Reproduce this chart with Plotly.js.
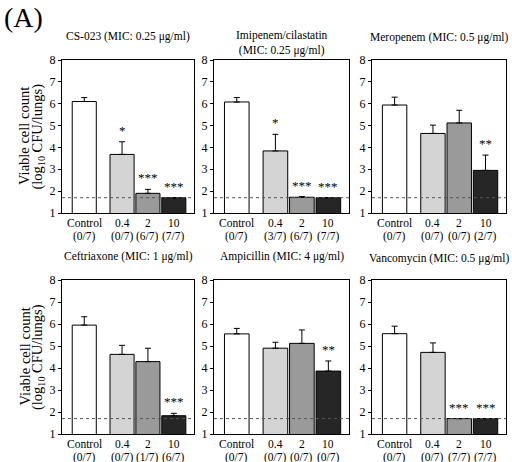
<!DOCTYPE html>
<html>
<head>
<meta charset="utf-8">
<script src="https://cdn.plot.ly/plotly-3.0.1.min.js"></script>
<style>html,body{margin:0;padding:0;background:#fff;}</style>
</head>
<body>
<div id="chart" style="width:512px;height:462px;"></div>
<script>
// ---- data ----
const doses = ['Control', '0.4', '2', '10'];
const panelTitles = [
  'CS-023 (MIC: 0.25 \u03bcg/ml)',
  'Imipenem/cilastatin<br>(MIC: 0.25 \u03bcg/ml)',
  'Meropenem (MIC: 0.5 \u03bcg/ml)',
  'Ceftriaxone (MIC: 1 \u03bcg/ml)',
  'Ampicillin (MIC: 4 \u03bcg/ml)',
  'Vancomycin (MIC: 0.5 \u03bcg/ml)'
];
const cs023Mean = [6.10, 3.68, 1.90, 1.70];
const cs023Err  = [0.18, 0.58, 0.18, 0];
const cs023Stars = ['', '*', '***', '***'];
const cs023Cleared = ['0/7', '0/7', '6/7', '7/7'];

const imipenemMean = [6.08, 3.84, 1.72, 1.70];
const imipenemErr  = [0.20, 0.76, 0.03, 0];
const imipenemStars = ['', '*', '***', '***'];
const imipenemCleared = ['0/7', '3/7', '6/7', '7/7'];

const meropenemMean = [5.94, 4.64, 5.12, 2.95];
const meropenemErr  = [0.36, 0.38, 0.58, 0.70];
const meropenemStars = ['', '', '', '**'];
const meropenemCleared = ['0/7', '0/7', '0/7', '2/7'];

const ceftriaxoneMean = [5.95, 4.62, 4.29, 1.83];
const ceftriaxoneErr  = [0.38, 0.41, 0.61, 0.11];
const ceftriaxoneStars = ['', '', '', '***'];
const ceftriaxoneCleared = ['0/7', '0/7', '1/7', '6/7'];

const ampicillinMean = [5.55, 4.90, 5.12, 3.86];
const ampicillinErr  = [0.25, 0.27, 0.61, 0.46];
const ampicillinStars = ['', '', '', '**'];
const ampicillinCleared = ['0/7', '0/7', '0/7', '0/7'];

const vancomycinMean = [5.56, 4.71, 1.70, 1.70];
const vancomycinErr  = [0.34, 0.43, 0, 0];
const vancomycinStars = ['', '', '***', '***'];
const vancomycinCleared = ['0/7', '0/7', '7/7', '7/7'];

const detectionLimit = 1.7;

const panels = [
  {mean: cs023Mean, err: cs023Err, stars: cs023Stars, cleared: cs023Cleared},
  {mean: imipenemMean, err: imipenemErr, stars: imipenemStars, cleared: imipenemCleared},
  {mean: meropenemMean, err: meropenemErr, stars: meropenemStars, cleared: meropenemCleared},
  {mean: ceftriaxoneMean, err: ceftriaxoneErr, stars: ceftriaxoneStars, cleared: ceftriaxoneCleared},
  {mean: ampicillinMean, err: ampicillinErr, stars: ampicillinStars, cleared: ampicillinCleared},
  {mean: vancomycinMean, err: vancomycinErr, stars: vancomycinStars, cleared: vancomycinCleared}
];

// ---- layout constants ----
const W = 512, H = 462;
const barX = [0, 1.46, 2.46, 3.46];
const colsPx = [[62, 194], [214, 349], [372, 506]];
const rowsPx = [[60, 213], [280, 434]];
const barFill = ['#ffffff', '#d4d4d4', '#9a9a9a', '#262626'];
const serif = '"Liberation Serif", "Times New Roman", serif';

const traces = [];
const layout = {
  width: W, height: H,
  margin: {l: 0, r: 0, t: 0, b: 0},
  paper_bgcolor: '#fff', plot_bgcolor: '#fff',
  showlegend: false,
  font: {family: serif, color: '#000'},
  annotations: [], shapes: []
};

panels.forEach((p, i) => {
  const n = i + 1;
  const row = Math.floor(i / 3), col = i % 3;
  const xd = [colsPx[col][0] / W, colsPx[col][1] / W];
  const yd = [1 - rowsPx[row][1] / H, 1 - rowsPx[row][0] / H];
  const xa = 'x' + n, ya = 'y' + n;

  traces.push({
    type: 'bar', x: barX, y: p.mean, width: 0.93,
    xaxis: xa, yaxis: ya,
    marker: {color: barFill, line: {color: '#000', width: 1}},
    error_y: {type: 'data', symmetric: false, array: p.err, arrayminus: p.err.map(() => 0),
              color: '#000', thickness: 1, width: 3, visible: true},
    hoverinfo: 'none'
  });

  layout['xaxis' + n] = {
    domain: xd, anchor: ya, range: [-0.86, 4.24],
    tickvals: barX, showticklabels: false, ticks: '',
    showline: true, mirror: true, linecolor: '#000', linewidth: 1,
    showgrid: false, zeroline: false, fixedrange: true
  };
  layout['yaxis' + n] = {
    domain: yd, anchor: xa, range: [1, 8], dtick: 1,
    ticks: 'outside', ticklen: 3, tickcolor: '#000',
    tickfont: {family: serif, size: 12, color: '#000'},
    showline: true, mirror: true, linecolor: '#000', linewidth: 1,
    showgrid: false, zeroline: false, fixedrange: true
  };

  // category labels (two lines) under each bar
  doses.forEach((d, k) => {
    layout.annotations.push({
      xref: xa, yref: ya + ' domain', x: barX[k], y: 0,
      text: d, showarrow: false, xanchor: 'center', yanchor: 'top', yshift: -2,
      font: {family: serif, size: 11.5, color: '#000'}
    });
    layout.annotations.push({
      xref: xa, yref: ya + ' domain', x: barX[k], y: 0,
      text: '(' + p.cleared[k] + ')', showarrow: false, xanchor: 'center', yanchor: 'top', yshift: -15,
      font: {family: serif, size: 11.5, color: '#000'}
    });
  });

  layout.shapes.push({
    type: 'line', xref: xa + ' domain', yref: ya,
    x0: 0, x1: 1, y0: detectionLimit, y1: detectionLimit,
    line: {color: '#555', width: 1, dash: 'dot'}, layer: 'above'
  });

  p.stars.forEach((s, k) => {
    if (!s) return;
    layout.annotations.push({
      xref: xa, yref: ya, x: barX[k], y: p.mean[k] + p.err[k],
      text: s, showarrow: false, yanchor: 'bottom', yshift: 2,
      font: {family: serif, size: 13, color: '#000'}
    });
  });

  const isTwoLine = panelTitles[i].indexOf('<br>') >= 0;
  layout.annotations.push({
    xref: 'paper', yref: 'paper',
    x: (xd[0] + xd[1]) / 2,
    y: 1 - (rowsPx[row][0] - (isTwoLine ? 17 : (col === 2 ? 22 : 24))) / H,
    text: panelTitles[i], showarrow: false, xanchor: 'center', yanchor: 'middle',
    font: {family: serif, size: 11.5, color: '#000'}
  });

  if (col === 0) {
    const cy = 1 - ((rowsPx[row][0] + rowsPx[row][1]) / 2) / H;
    layout.annotations.push({
      xref: 'paper', yref: 'paper', x: 24.5 / W, y: cy, textangle: -90,
      text: 'Viable cell count', showarrow: false, xanchor: 'center', yanchor: 'middle',
      font: {family: serif, size: 14.5, color: '#000'}
    });
    layout.annotations.push({
      xref: 'paper', yref: 'paper', x: 38 / W, y: cy, textangle: -90,
      text: '(log<sub>10</sub> CFU/lungs)', showarrow: false, xanchor: 'center', yanchor: 'middle',
      font: {family: serif, size: 14.5, color: '#000'}
    });
  }
});

layout.annotations.push({
  xref: 'paper', yref: 'paper', x: 2 / W, y: 1 - 17 / H,
  text: '(A)', showarrow: false, xanchor: 'left', yanchor: 'middle',
  font: {family: serif, size: 28, color: '#000'}
});

Plotly.newPlot('chart', traces, layout, {staticPlot: true, displayModeBar: false});
</script>
</body>
</html>
